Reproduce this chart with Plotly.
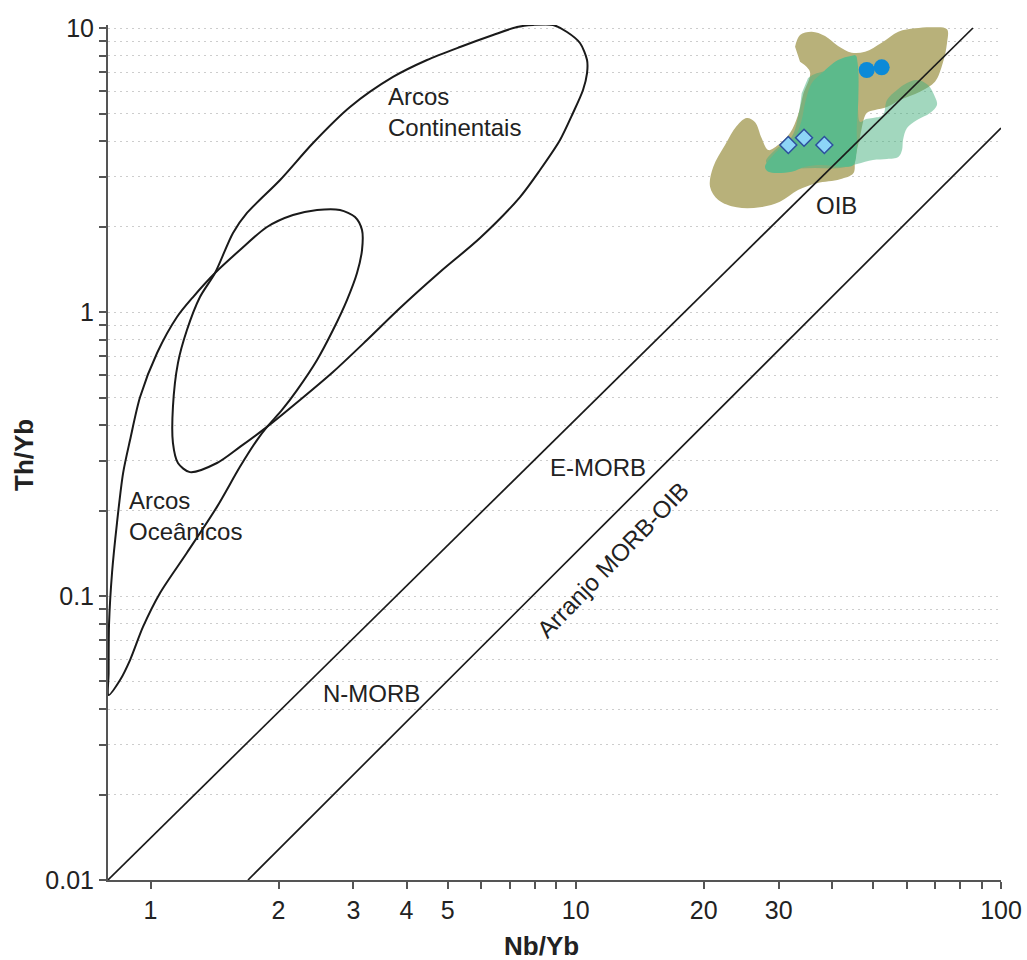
import plotly.graph_objects as go

# ---------------- data (Nb/Yb, Th/Yb) ----------------
ocean_arc_nb = [0.797, 0.797, 0.799, 0.812, 0.834, 0.862, 0.895, 0.945, 1.036, 1.154, 1.259, 1.418, 1.623,
                1.879, 2.163, 2.464, 2.790, 3.026, 3.143, 3.143, 3.059, 2.897, 2.686, 2.464, 2.211,
                2.038, 1.879, 1.780, 1.623, 1.433, 1.218, 1.053, 0.960, 0.895, 0.848, 0.797]
ocean_arc_th = [0.0448, 0.0536, 0.0803, 0.121, 0.181, 0.271, 0.354, 0.502, 0.717, 0.960, 1.129, 1.372, 1.653,
                1.992, 2.195, 2.287, 2.287, 2.160, 1.944, 1.653, 1.372, 1.102, 0.864, 0.678, 0.531,
                0.452, 0.394, 0.354, 0.285, 0.206, 0.142, 0.1025, 0.0778, 0.0595, 0.0506, 0.0448]

cont_arc_nb = [1.879, 1.623, 1.433, 1.238, 1.160, 1.129, 1.129, 1.160, 1.218, 1.307, 1.418, 1.563, 1.686,
               2.017, 2.411, 2.945, 3.717, 4.469, 5.343, 6.389, 7.274, 7.934, 8.842, 9.537,
               10.23, 10.63, 10.63, 10.40, 9.851, 9.183, 8.240, 7.394, 5.954, 4.794, 3.861, 3.229,
               2.686, 2.246, 1.879]
cont_arc_th = [0.394, 0.335, 0.294, 0.273, 0.294, 0.346, 0.463, 0.661, 0.864, 1.129, 1.372, 1.898, 2.232,
               2.916, 3.936, 5.270, 6.723, 7.714, 8.573, 9.449, 10.08, 10.25, 10.25, 9.681,
               8.856, 7.714, 6.942, 6.050, 5.020, 4.033, 3.162, 2.540, 1.822, 1.383, 1.033, 0.797,
               0.615, 0.490, 0.394]

array_upper_nb = [0.794, 85.9]
array_upper_th = [0.01, 10.0]
array_lower_nb = [1.695, 100.0]
array_lower_th = [0.01, 4.445]

oib_olive_nb = [32.79, 33.68, 35.89, 38.56, 41.38, 44.56, 47.89, 52.41, 57.35, 62.77, 69.31, 74.64, 74.64,
                72.93, 69.95, 64.50, 57.88, 53.94, 50.55, 48.33, 46.61, 45.37, 44.95, 41.83, 36.88,
                33.32, 30.21, 27.11, 23.90, 21.64, 20.69, 21.06, 22.44, 23.90, 25.23, 26.38, 27.37,
                28.37, 29.90, 31.90, 33.32, 34.23, 35.55, 33.68]
oib_olive_th = [8.594, 9.449, 9.705, 9.372, 8.643, 8.186, 8.252, 8.876, 9.705, 9.976, 10.06, 9.895, 8.834,
                7.510, 6.470, 5.967, 5.578, 5.270, 5.143, 5.020, 4.143, 3.429, 3.078, 2.932, 2.839,
                2.689, 2.445, 2.337, 2.337, 2.479, 2.761, 3.247, 3.873, 4.517, 4.821, 4.667, 4.089,
                3.719, 3.873, 4.269, 4.939, 5.809, 7.000, 7.608]

oib_light_nb = [35.18, 36.88, 43.45, 45.86, 46.61, 48.14, 50.00, 52.78, 53.94, 56.94, 60.11, 63.46, 67.35,
                69.95, 70.71, 68.08, 63.46, 60.11, 58.83, 58.51, 57.35, 53.94, 50.00, 45.86, 41.83,
                36.54, 31.90, 28.02, 29.41, 32.20, 33.32, 33.99]
oib_light_th = [6.667, 6.926, 7.114, 5.578, 4.667, 4.782, 4.821, 4.939, 5.578, 6.050, 6.402, 6.560, 6.299,
                5.715, 5.356, 5.020, 4.743, 4.445, 4.033, 3.719, 3.514, 3.457, 3.429, 3.319, 3.213,
                3.213, 3.213, 3.374, 3.719, 4.143, 4.872, 5.891]

oib_dark_nb = [45.37, 41.38, 37.88, 35.89, 34.61, 33.99, 32.79, 30.50, 28.89, 27.86, 28.37, 32.20, 34.61,
               37.88, 42.21, 44.95, 45.78, 45.78, 46.18, 46.18, 45.78]
oib_dark_th = [8.035, 7.714, 6.926, 6.386, 5.431, 4.743, 4.143, 3.819, 3.522, 3.247, 3.119, 3.119, 3.247,
               3.292, 3.247, 3.292, 3.719, 4.492, 5.578, 7.114, 7.925]

circle_nb = [48.33, 52.41]
circle_th = [7.114, 7.271]
diamond_nb = [31.61, 34.42, 38.42]
diamond_th = [3.873, 4.109, 3.873]

x_tickvals = [1, 2, 3, 4, 5, 6, 7, 8, 9, 10, 20, 30, 40, 50, 60, 70, 80, 90, 100]
x_ticktext = ["1", "2", "3", "4", "5", "", "", "", "", "10", "20", "30", "", "", "", "", "", "", "100"]
y_tickvals = [m * 10 ** p for p in (-2, -1, 0) for m in range(1, 10)] + [10]
y_ticktext = [("0.01" if p == -2 else "0.1" if p == -1 else "1") if m == 1 else ""
              for p in (-2, -1, 0) for m in range(1, 10)] + ["10"]

# ---------------- styling ----------------
FONT = "Liberation Sans, Arial, sans-serif"
TXT = "#222222"
OLIVE = "#b8b17a"
LIGHT = "rgba(70,175,125,0.50)"
DARK = "#5cba8b"

fig = go.Figure()

fig.add_trace(go.Scatter(x=oib_olive_nb, y=oib_olive_th, mode="lines", fill="toself",
                         fillcolor=OLIVE, line=dict(width=0, color=OLIVE, shape="spline"),
                         hoverinfo="skip"))
fig.add_trace(go.Scatter(x=oib_light_nb, y=oib_light_th, mode="lines", fill="toself",
                         fillcolor=LIGHT, line=dict(width=0, color=LIGHT, shape="spline"),
                         hoverinfo="skip"))
fig.add_trace(go.Scatter(x=oib_dark_nb, y=oib_dark_th, mode="lines", fill="toself",
                         fillcolor=DARK, line=dict(width=0, color=DARK, shape="spline"),
                         hoverinfo="skip"))

for xs, ys in ((array_upper_nb, array_upper_th), (array_lower_nb, array_lower_th)):
    fig.add_trace(go.Scatter(x=xs, y=ys, mode="lines", line=dict(color="#1a1a1a", width=1.7),
                             hoverinfo="skip"))

for xs, ys in ((ocean_arc_nb, ocean_arc_th), (cont_arc_nb, cont_arc_th)):
    fig.add_trace(go.Scatter(x=xs, y=ys, mode="lines",
                             line=dict(color="#1a1a1a", width=2, shape="spline", smoothing=0.8),
                             hoverinfo="skip"))

fig.add_trace(go.Scatter(x=circle_nb, y=circle_th, mode="markers",
                         marker=dict(symbol="circle", size=16, color="#0b8ad8",
                                     line=dict(width=0)), hoverinfo="skip"))
fig.add_trace(go.Scatter(x=diamond_nb, y=diamond_th, mode="markers",
                         marker=dict(symbol="diamond", size=13, color="#8dd5f7",
                                     line=dict(width=1.5, color="#2d4f9e")), hoverinfo="skip"))

L, R, T, B = 108, 26, 25, 80
W, H = 1027, 960
PW, PH = W - L - R, H - T - B


def px(xp):
    return (xp - L) / PW


def py(yp):
    return (H - B - yp) / PH


def label(text, xpix, ypix, size=24, xanchor="center", angle=0, bold=False):
    fig.add_annotation(text=f"<b>{text}</b>" if bold else text, xref="paper", yref="paper",
                       x=px(xpix), y=py(ypix), xanchor=xanchor, yanchor="middle",
                       textangle=angle, showarrow=False,
                       font=dict(family=FONT, size=size, color=TXT))


label("Arcos", 386, 96.5, xanchor="left")
label("Continentais", 386, 127, xanchor="left")
label("Arcos", 127, 500, xanchor="left")
label("Oceânicos", 127, 531, xanchor="left")
label("E-MORB", 598, 467)
label("N-MORB", 371, 693)
label("OIB", 836, 205)
label("Arranjo MORB-OIB", 612, 560, angle=-46)
label("Nb/Yb", 541, 946, size=26, bold=True)
label("Th/Yb", 24, 455, size=26, angle=-90, bold=True)

fig.update_layout(
    template="none",
    width=W, height=H, autosize=False,
    margin=dict(l=L, r=R, t=T, b=B, pad=0),
    paper_bgcolor="white", plot_bgcolor="white",
    showlegend=False,
    font=dict(family=FONT, size=25, color=TXT),
    xaxis=dict(type="log", range=[-0.1, 2], tickmode="array", tickvals=x_tickvals,
               ticktext=x_ticktext, ticks="outside", ticklen=7, tickwidth=1.5, tickcolor="#555",
               showline=True, linecolor="#555", linewidth=2, showgrid=False, zeroline=False,
               mirror=False, automargin=False, tickfont=dict(family=FONT, size=25, color=TXT)),
    yaxis=dict(type="log", range=[-2, 1.0106], tickmode="array", tickvals=y_tickvals,
               ticktext=y_ticktext, ticks="outside", ticklen=7, tickwidth=1.5, tickcolor="#555",
               showline=True, linecolor="#555", linewidth=2, showgrid=True,
               gridcolor="#cdcdcd", gridwidth=1, griddash="2px,4px", zeroline=False,
               mirror=False, automargin=False, tickfont=dict(family=FONT, size=25, color=TXT)),
)

fig.write_html("out.html", config={"displayModeBar": False, "responsive": False},
               post_script="document.body.style.margin='0';")
